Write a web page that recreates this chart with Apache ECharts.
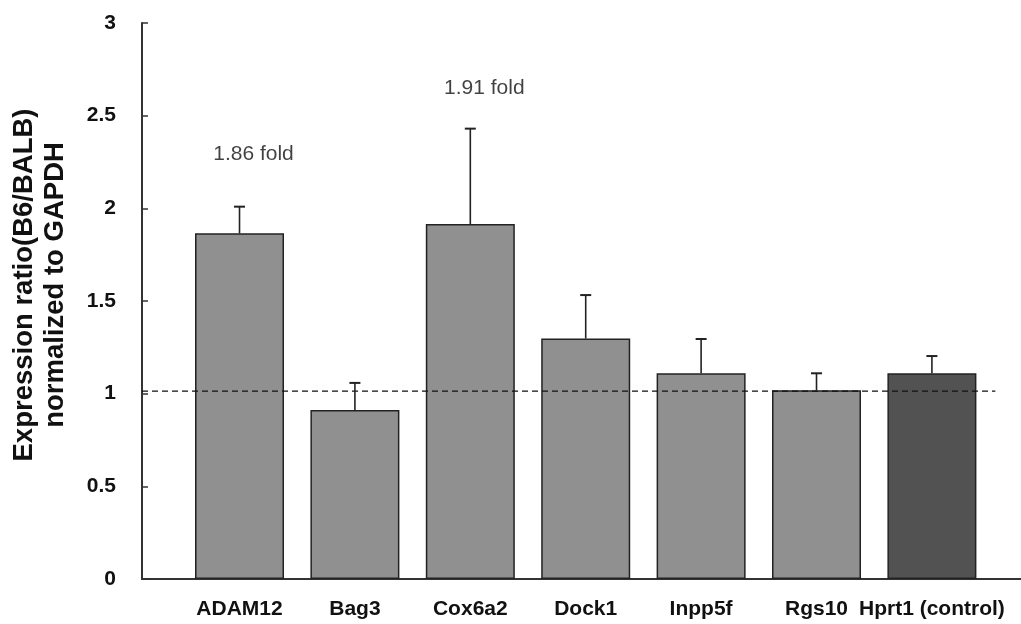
<!DOCTYPE html>
<html>
<head>
<meta charset="utf-8">
<script src="https://cdn.jsdelivr.net/npm/echarts@6/dist/echarts.min.js"></script>
<style>html,body{margin:0;padding:0;background:#fff;}#c{width:1021px;height:624px;}</style>
</head>
<body>
<div id="c"></div>
<script>
var categories = ['ADAM12', 'Bag3', 'Cox6a2', 'Dock1', 'Inpp5f', 'Rgs10', 'Hprt1 (control)'];
var ratios = [1.865, 0.912, 1.915, 1.297, 1.11, 1.018, 1.11];
var errorTops = [2.009, 1.058, 2.43, 1.532, 1.295, 1.11, 1.203];
var barColors = ['#909090', '#909090', '#909090', '#909090', '#909090', '#909090', '#525252'];
var foldTexts = ['1.86 fold', '1.91 fold'];
var foldIndex = [0, 2];
var foldY = [2.29, 2.65];
var refLevel = 1.014;

var FONT = 'Liberation Sans, Arial, sans-serif';
var chart = echarts.init(document.getElementById('c'), null, {renderer: 'canvas'});

var xMin = -0.845, xMax = 6.772;

var barData = ratios.map(function (v, i) {
  return {value: [i, v], itemStyle: {color: barColors[i]}};
});
var errData = ratios.map(function (v, i) { return [i, v, errorTops[i]]; });
var foldData = foldTexts.map(function (t, k) { return [foldIndex[k], foldY[k], t]; });

chart.setOption({
  animation: false,
  backgroundColor: '#fff',
  grid: {left: 142, right: 0, top: 23, bottom: 45, containLabel: false},
  xAxis: {
    type: 'value', min: xMin, max: xMax,
    axisLine: {show: true, onZero: false, lineStyle: {color: '#333', width: 2}},
    axisTick: {show: false},
    splitLine: {show: false},
    axisLabel: {
      customValues: categories.map(function (c, i) { return i; }),
      formatter: function (v) { return categories[Math.round(v)] || ''; },
      fontFamily: FONT, fontWeight: 'bold', fontSize: 21, color: '#111', margin: 20
    }
  },
  yAxis: {
    type: 'value', min: 0, max: 3, interval: 0.5,
    axisLine: {show: true, onZero: false, lineStyle: {color: '#333', width: 2}},
    axisTick: {show: true, inside: true, length: 6, lineStyle: {color: '#333', width: 1.5}},
    splitLine: {show: false},
    axisLabel: {
      fontFamily: FONT, fontWeight: 'bold', fontSize: 21, color: '#111', margin: 26,
      formatter: function (v) { return String(v); }
    }
  },
  graphic: [{
    type: 'text',
    x: 40, y: 285,
    rotation: Math.PI / 2,
    style: {
      text: 'Expression ratio(B6/BALB)\nnormalized to GAPDH',
      fontFamily: FONT, fontWeight: 'bold', fontSize: 27.5, fill: '#111',
      align: 'center', verticalAlign: 'middle', lineHeight: 31
    }
  }],
  series: [
    {
      type: 'bar', data: barData, barWidth: 89, z: 2,
      itemStyle: {borderColor: '#222', borderWidth: 1.5}
    },
    {
      type: 'line', data: [[xMin, refLevel], [6.55, refLevel]],
      symbol: 'none', z: 3,
      lineStyle: {color: '#111', width: 1.3, type: [6, 4]}
    },
    {
      type: 'custom', data: errData, z: 4,
      renderItem: function (params, api) {
        var base = api.coord([api.value(0), api.value(1)]);
        var top = api.coord([api.value(0), api.value(2)]);
        var half = 5.5;
        return {
          type: 'group',
          children: [
            {type: 'line', shape: {x1: base[0], y1: base[1], x2: top[0], y2: top[1]}, style: {stroke: '#222', lineWidth: 1.6}},
            {type: 'line', shape: {x1: top[0] - half, y1: top[1], x2: top[0] + half, y2: top[1]}, style: {stroke: '#222', lineWidth: 2}}
          ]
        };
      }
    },
    {
      type: 'scatter', data: foldData, symbolSize: 0, z: 5,
      label: {
        show: true, position: 'inside', offset: [14, 0],
        formatter: function (p) { return p.data[2]; },
        fontFamily: FONT, fontSize: 21, color: '#111'
      }
    }
  ]
});
</script>
</body>
</html>
